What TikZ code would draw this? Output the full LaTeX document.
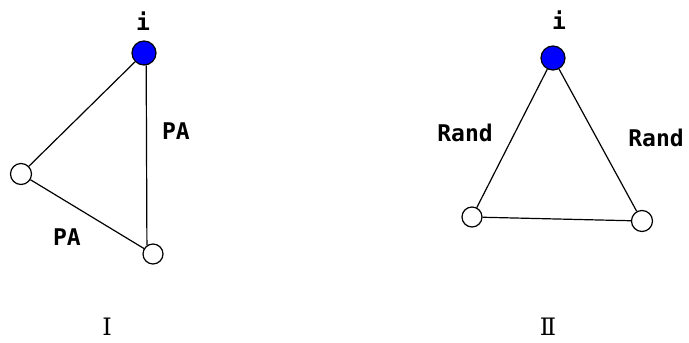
\documentclass[tikz,border=0pt]{standalone}
\usepackage{fontspec}
\newfontfamily\labelfont{DejaVu Sans Mono Bold}
\newfontfamily\romanfont{DejaVu Serif}
\begin{document}
\begin{tikzpicture}[
  x=1pt, y=-1pt,
  vertex/.style={
    draw,
    circle,
    line width=1.2pt,
    color=black,
    fill=white,
    inner sep=0pt,
    minimum size=21pt
  },
  vertex_i/.style={
    vertex,
    fill=blue,
    minimum size=24pt
  },
  edge_line/.style={
    draw,
    line width=1.2pt,
    color=black
  },
  edge_label/.style={
    font=\labelfont\fontsize{23}{23}\selectfont
  },
  panel_label/.style={
    font=\romanfont\fontsize{24}{24}\selectfont
  }
]%
\useasboundingbox (0,0) rectangle (689,343);
% panel I
\node [vertex_i] (i_one) at (144,53) {};
\node [vertex] (a_one) at (21,174) {};
\node [vertex, minimum size=20pt] (b_one) at (153,254) {};
\node [edge_label] (i_one_text) at (143,21) {i};
\path [edge_line] (i_one) -- (a_one);
\path [edge_line] (i_one.-80) -- (b_one.125);
\path [edge_line] (a_one) -- (b_one);
\node [edge_label] (pa_right) at (176,131) {PA};
\node [edge_label] (pa_low) at (67,237) {PA};
\node [panel_label] (one) at (107,327) {Ⅰ};
% panel II
\node [vertex_i] (i_two) at (553,58) {};
\node [vertex, minimum size=20pt] (a_two) at (472,217) {};
\node [vertex] (b_two) at (642,221) {};
\node [edge_label] (i_two_text) at (559,20) {i};
\path [edge_line] (i_two) -- (a_two);
\path [edge_line] (i_two) -- (b_two);
\path [edge_line] (a_two) -- (b_two);
\node [edge_label] (rand_left) at (465,133) {Rand};
\node [edge_label] (rand_right) at (656,138) {Rand};
\node [panel_label] (two) at (548,327) {Ⅱ};
\end{tikzpicture}
\end{document}
